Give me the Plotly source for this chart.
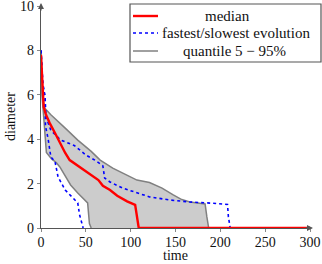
import plotly.graph_objects as go

# quantile 95% (upper boundary)
q95_t = [0, 1, 2, 4, 11, 27, 41, 56, 66, 80, 91, 107, 121, 135, 147, 157, 166, 183, 185, 187]
q95_y = [8.0, 6.6, 5.8, 5.4, 5.1, 4.5, 3.96, 3.45, 3.06, 2.7, 2.48, 2.16, 2.05, 1.8, 1.5, 1.28, 1.17, 1.08, 0.5, 0.0]
# quantile 5% (lower boundary)
q05_t = [0, 1, 3, 4.5, 6, 12, 17, 21, 33, 41, 52, 54, 56]
q05_y = [8.0, 6.0, 5.0, 4.0, 3.4, 3.1, 2.95, 2.75, 1.94, 1.58, 1.13, 0.2, 0.0]
# fastest evolution
fast_t = [0, 2, 4.5, 5, 8, 11, 15.6, 19, 27, 36, 41, 43, 45, 47]
fast_y = [8.0, 6.5, 5.9, 4.6, 4.0, 3.2, 3.0, 2.3, 1.71, 1.35, 1.13, 0.6, 0.3, 0.0]
# slowest evolution
slow_t = [0, 2, 4.5, 5.6, 11, 22, 37, 50, 60, 69, 71, 77, 91, 107, 121, 144, 166, 190, 208, 209, 211]
slow_y = [8.0, 6.5, 5.9, 5.0, 4.4, 3.96, 3.72, 3.29, 3.06, 2.8, 2.25, 2.07, 1.8, 1.58, 1.4, 1.26, 1.17, 1.12, 1.06, 0.5, 0.0]
# median
med_t = [0, 3, 5.6, 10, 15.6, 21, 27, 32, 45, 56, 64, 69, 77, 85, 96, 105, 107, 109, 300]
med_y = [7.8, 5.45, 5.1, 4.7, 4.28, 3.83, 3.38, 3.06, 2.7, 2.42, 2.16, 1.9, 1.71, 1.45, 1.2, 1.04, 0.5, 0.0, 0.0]

x_ticks = [0, 50, 100, 150, 200, 250, 300]
y_ticks = [0, 2, 4, 6, 8, 10]

legend_labels = ["median", "fastest/slowest evolution", "quantile 5 \u2212 95%"]

FONT = "Liberation Serif"
GRAY_LINE = "#808080"
RED = "#ff0000"
BLUE = "#0000ff"
AXIS = "#555555"

W, H = 322, 264
ML, MR, MT, MB = 41, 12, 6, 36
PW, PH = W - ML - MR, H - MT - MB


def px_x(p):
    return (p - ML) / PW


def px_y(p):
    return (H - MB - p) / PH


fig = go.Figure()

# shaded quantile band
fig.add_trace(go.Scatter(
    x=q95_t + q05_t[::-1], y=q95_y + q05_y[::-1],
    fill="toself", fillcolor="#cccccc", mode="none",
    showlegend=False, hoverinfo="skip"))

fig.add_trace(go.Scatter(x=q95_t, y=q95_y, mode="lines",
                         line=dict(color=GRAY_LINE, width=1.5), showlegend=False))
fig.add_trace(go.Scatter(x=q05_t, y=q05_y, mode="lines",
                         line=dict(color=GRAY_LINE, width=1.5), showlegend=False))
fig.add_trace(go.Scatter(x=fast_t, y=fast_y, mode="lines",
                         line=dict(color=BLUE, width=1.6, dash="dot"), showlegend=False))
fig.add_trace(go.Scatter(x=slow_t, y=slow_y, mode="lines",
                         line=dict(color=BLUE, width=1.6, dash="dot"), showlegend=False))
fig.add_trace(go.Scatter(x=med_t, y=med_y, mode="lines",
                         line=dict(color=RED, width=2.4), showlegend=False))

axis_common = dict(showgrid=False, zeroline=False, showline=True,
                   linecolor=AXIS, linewidth=1.2, automargin=False,
                   ticks="outside", ticklen=3, tickcolor="#888888",
                   ticklabeloverflow="allow",
                   tickfont=dict(family=FONT, size=14, color="#111111"))

shapes = []
annotations = []

# legend box (drawn manually, pgfplots style)
shapes.append(dict(type="rect", xref="paper", yref="paper",
                   x0=px_x(130), x1=px_x(321), y0=px_y(62), y1=px_y(4),
                   line=dict(color=AXIS, width=1.2), fillcolor="white", layer="above"))
legend_styles = [dict(color=RED, width=2.4),
                 dict(color=BLUE, width=1.6, dash="dot"),
                 dict(color=GRAY_LINE, width=1.5)]
row_y = [16, 33, 51]
text_cx = [227, 236, 234]
for lab, st, ry, cx in zip(legend_labels, legend_styles, row_y, text_cx):
    shapes.append(dict(type="line", xref="paper", yref="paper",
                       x0=px_x(133), x1=px_x(158), y0=px_y(ry), y1=px_y(ry),
                       line=st, layer="above"))
    annotations.append(dict(text=lab, xref="paper", yref="paper",
                            x=px_x(cx), y=px_y(ry), xanchor="center", yanchor="middle",
                            showarrow=False, borderpad=0,
                            font=dict(family=FONT, size=15, color="#111111")))

# axis arrows
annotations.append(dict(text="", xref="paper", yref="paper", x=px_x(313), y=0,
                        ax=-9, ay=0, showarrow=True, arrowhead=2, arrowsize=1,
                        arrowwidth=1.2, arrowcolor=AXIS))
annotations.append(dict(text="", xref="paper", yref="paper", x=0, y=px_y(3),
                        ax=0, ay=9, showarrow=True, arrowhead=2, arrowsize=1,
                        arrowwidth=1.2, arrowcolor=AXIS))

# axis titles
annotations.append(dict(text="time", xref="paper", yref="paper",
                        x=px_x(175), y=px_y(264), xanchor="center", yanchor="bottom",
                        showarrow=False, borderpad=0,
                        font=dict(family=FONT, size=14, color="#111111")))
annotations.append(dict(text="diameter", xref="paper", yref="paper",
                        x=px_x(10), y=px_y(117), xanchor="center", yanchor="middle",
                        textangle=-90, showarrow=False, borderpad=0,
                        font=dict(family=FONT, size=14, color="#111111")))

fig.update_layout(
    width=W, height=H,
    margin=dict(l=ML, r=MR, t=MT, b=MB),
    paper_bgcolor="white", plot_bgcolor="white",
    font=dict(family=FONT, size=14, color="#111111"),
    xaxis=dict(range=[0, 300], tickvals=x_ticks, ticklabelstandoff=-2, **axis_common),
    yaxis=dict(range=[0, 10], tickvals=y_ticks, **axis_common),
    showlegend=False,
    shapes=shapes,
    annotations=annotations,
)

fig.write_html("out.html", config={"displayModeBar": False},
               post_script="document.body.style.margin='0';document.body.style.overflow='hidden';")
